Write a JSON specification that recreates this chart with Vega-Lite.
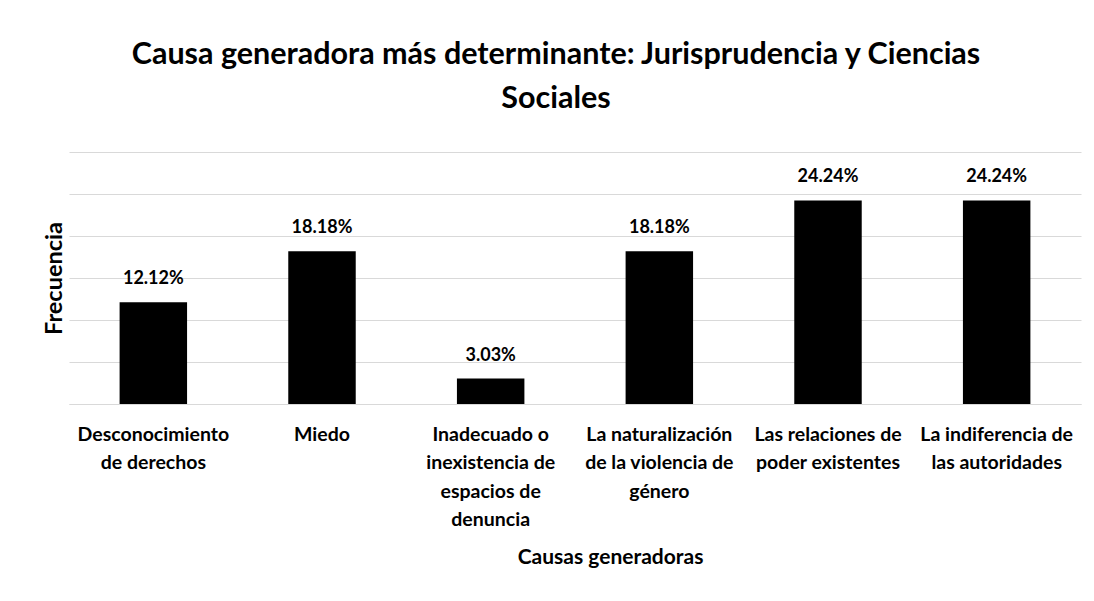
{
  "$schema": "https://vega.github.io/schema/vega-lite/v6.json",
  "autosize": "none",
  "width": 1012,
  "height": 252,
  "padding": {"left": 69, "top": 152, "right": 13, "bottom": 197},
  "background": "white",
  "config": {
    "font": "Lato",
    "view": {"stroke": null}
  },
  "title": {
    "text": ["Causa generadora más determinante: Jurisprudencia y Ciencias", "Sociales"],
    "font": "Lato",
    "fontSize": 30.5,
    "fontWeight": "bold",
    "color": "#000000",
    "anchor": "middle",
    "dx": -19,
    "offset": 38,
    "lineHeight": 44
  },
  "data": {
    "values": [
      {"causa": "Desconocimiento|de derechos", "frecuencia": 0.1212},
      {"causa": "Miedo", "frecuencia": 0.1818},
      {"causa": "Inadecuado o|inexistencia de|espacios de|denuncia", "frecuencia": 0.0303},
      {"causa": "La naturalización|de la violencia de|género", "frecuencia": 0.1818},
      {"causa": "Las relaciones de|poder existentes", "frecuencia": 0.2424},
      {"causa": "La indiferencia de|las autoridades", "frecuencia": 0.2424}
    ]
  },
  "encoding": {
    "x": {
      "field": "causa",
      "type": "nominal",
      "sort": null,
      "scale": {"paddingInner": 0.6, "paddingOuter": 0.3},
      "axis": {
        "title": "Causas generadoras",
        "titleFont": "Lato",
        "titleFontSize": 21,
        "titleFontWeight": "bold",
        "titleColor": "#000000",
        "titlePadding": 17,
        "titleX": 541,
        "titleAlign": "center",
        "labelExpr": "split(datum.label, '|')",
        "labelAngle": 0,
        "labelFont": "Lato",
        "labelFontSize": 19.5,
        "labelFontWeight": "bold",
        "labelColor": "#000000",
        "labelLineHeight": 28.5,
        "labelPadding": 21,
        "labelBaseline": "top",
        "labelLimit": 200,
        "ticks": false,
        "domainColor": "#d9d9d9",
        "domainWidth": 1.2
      }
    },
    "y": {
      "field": "frecuencia",
      "type": "quantitative",
      "scale": {"domain": [0, 0.3], "nice": false},
      "axis": {
        "title": "Frecuencia",
        "titleFont": "Lato",
        "titleFontSize": 23.5,
        "titleFontWeight": "bold",
        "titleColor": "#000000",
        "titlePadding": 3,
        "values": [0, 0.05, 0.1, 0.15, 0.2, 0.25, 0.3],
        "labels": false,
        "ticks": false,
        "domain": false,
        "grid": true,
        "gridColor": "#d9d9d9",
        "gridWidth": 1.2
      }
    }
  },
  "layer": [
    {"mark": {"type": "bar", "color": "#000000"}},
    {
      "mark": {"type": "text", "baseline": "bottom", "dy": -14, "fontSize": 18, "fontWeight": "bold", "font": "Lato", "color": "#000000"},
      "encoding": {"text": {"field": "frecuencia", "type": "quantitative", "format": ".2%"}}
    }
  ]
}
